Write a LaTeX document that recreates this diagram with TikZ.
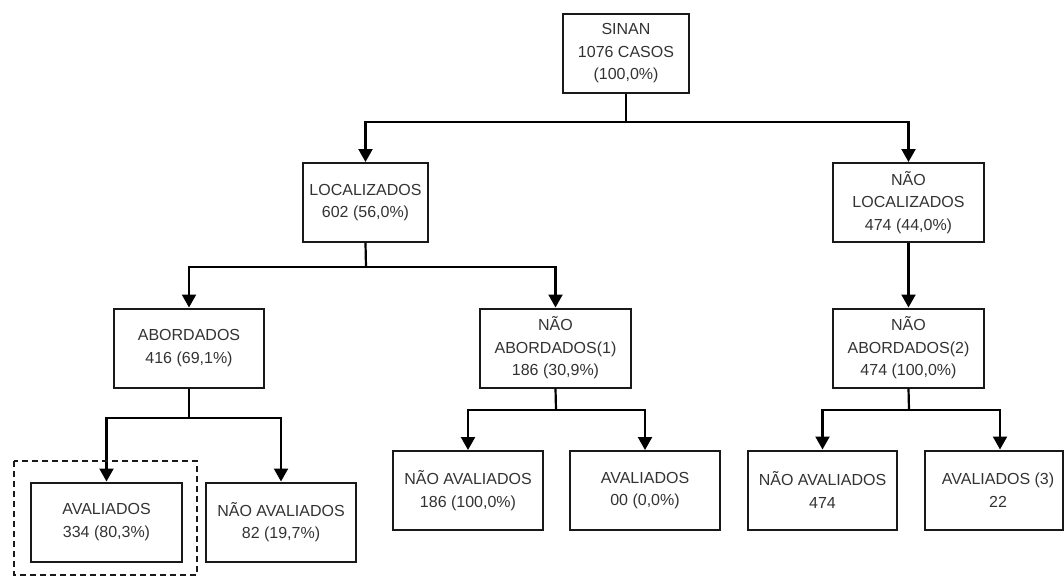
\documentclass[tikz,border=0pt]{standalone}
\usepackage{fontspec}
\setmainfont{Liberation Sans}
\usetikzlibrary{arrows.meta}
\begin{document}
\begin{tikzpicture}[x=1pt,y=-1pt,
  box/.style={draw=black!90, line width=2pt, fill=white, align=center, inner sep=0pt,
    minimum height=79pt, font=\fontsize{16}{22.5}\selectfont, text=black!80},
  wide/.style={minimum width=151pt},
  arr/.style={draw=black, line width=2.2pt, -{Triangle[width=14pt,length=13pt]}},
  ln/.style={draw=black, line width=2.2pt},
  dbox/.style={draw=black!90, line width=2pt, dash pattern=on 6pt off 4pt}]
\useasboundingbox (0,0) rectangle (1064,576);
\fill[white] (0,0) rectangle (1064,576);

\node[box, minimum width=126pt] (sinan) at (626,53.5) {SINAN\\1076 CASOS\\(100,0\%)};
\node[box, minimum width=125pt] (loc) at (365.5,202.5) {LOCALIZADOS\\602 (56,0\%)};
\node[box, wide] (nloc) at (908.5,202.5) {NÃO\\LOCALIZADOS\\474 (44,0\%)};
\node[box, minimum width=150pt] (abord) at (189,348) {ABORDADOS\\416 (69,1\%)};
\node[box, wide] (nab1) at (555.5,348) {NÃO\\ABORDADOS(1)\\186 (30,9\%)};
\node[box, wide] (nab2) at (908.5,348) {NÃO\\ABORDADOS(2)\\474 (100,0\%)};
\node[box, wide] (aval1) at (106.5,522) {AVALIADOS\\334 (80,3\%)};
\node[box, minimum width=150pt] (nav1) at (281,522) {NÃO AVALIADOS\\82 (19,7\%)};
\node[box, minimum width=150pt] (nav2) at (468,490.5) {NÃO AVALIADOS\\186 (100,0\%)};
\node[box, minimum width=150pt] (av2) at (645,490.5) {AVALIADOS\\00 (0,0\%)};
\node[box, minimum width=149pt] (nav3) at (822.5,490) {NÃO AVALIADOS\\474};
\node[box, minimum width=138pt] (av3) at (994,490) {\hspace*{8pt}AVALIADOS (3)\\\hspace*{8pt}22};

\coordinate (b1) at (626,122);
\coordinate (b2) at (366,267);
\coordinate (b3) at (189,418);
\coordinate (b4) at (556,410);
\coordinate (b5) at (909,410);

\draw[ln] (sinan.south) -- (b1);
\draw[arr] (b1) -| (loc.north);
\draw[arr] (b1) -| (nloc.north);
\draw[arr] (nloc.south) -- (nab2.north);

\draw[ln] (loc.south) -- (b2);
\draw[arr] (b2) -| (abord.north);
\draw[arr] (b2) -| (nab1.north);

\draw[ln] (abord.south) -- (b3);
\draw[arr] (b3) -| (aval1.north);
\draw[arr] (b3) -| (nav1.north);

\draw[ln] (nab1.south) -- (b4);
\draw[arr] (b4) -| (nav2.north);
\draw[arr] (b4) -| (av2.north);

\draw[ln] (nab2.south) -- (b5);
\draw[arr] (b5) -| (nav3.north);
\draw[arr] (b5) -| ([xshift=6pt]av3.north);

\draw[dbox] (14,461) rectangle (197,575);
\end{tikzpicture}
\end{document}
